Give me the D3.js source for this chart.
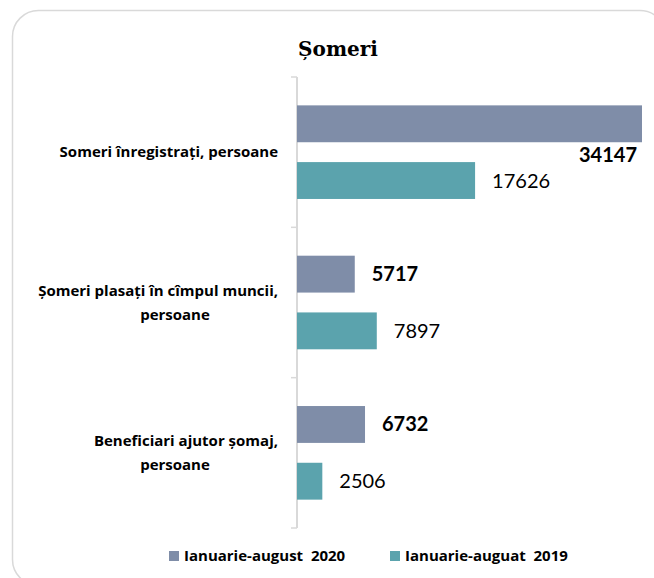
<!DOCTYPE html>
<html>
<head>
<meta charset="utf-8">
<script src="https://cdn.jsdelivr.net/npm/d3@7"></script>
<style>
  html, body { margin: 0; padding: 0; background: #fff; }
  svg { display: block; }
</style>
</head>
<body>
<svg id="chart" width="654" height="578"></svg>
<script>
// Unemployment indicators, January–August 2020 vs 2019
const title = "Șomeri";
const categories = [
  ["Someri înregistrați, persoane"],
  ["Șomeri plasați în cîmpul muncii,", "persoane"],
  ["Beneficiari ajutor șomaj,", "persoane"]
];
const seriesNames = ["Ianuarie-august  2020", "Ianuarie-auguat  2019"];
const values2020 = [34147, 5717, 6732];
const values2019 = [17626, 7897, 2506];

const colors = ["#7f8da8", "#5ba3ad"];
const labelFont = "'Open Sans', sans-serif";
const valueFont = "Lato, 'Open Sans', sans-serif";

const svg = d3.select("#chart");

// Rounded frame around the chart area
svg.append("rect")
  .attr("x", 12.5).attr("y", 10.5)
  .attr("width", 653.5).attr("height", 575)
  .attr("rx", 26).attr("ry", 26)
  .attr("fill", "#fff")
  .attr("stroke", "#d9d9d9")
  .attr("stroke-width", 1.5);

// Title
svg.append("text")
  .attr("x", 338).attr("y", 56)
  .attr("text-anchor", "middle")
  .attr("font-family", "'DejaVu Serif', serif")
  .attr("font-weight", "bold")
  .attr("font-size", 20)
  .attr("fill", "#000")
  .text(title);

const plot = { left: 297, right: 642, top: 77, bottom: 528 };

const x = d3.scaleLinear()
  .domain([0, d3.max(values2020.concat(values2019))])
  .range([plot.left, plot.right]);

const y = d3.scaleBand()
  .domain(d3.range(categories.length))
  .range([plot.top, plot.bottom]);

const inner = d3.scaleBand()
  .domain([0, 1])
  .range([0, y.bandwidth()])
  .paddingInner(0.35)
  .paddingOuter(0.5);

// Category axis with outward ticks at band boundaries
const axisG = svg.append("g");
axisG.append("line")
  .attr("x1", plot.left).attr("x2", plot.left)
  .attr("y1", plot.top).attr("y2", plot.bottom)
  .attr("stroke", "#d9d9d9").attr("stroke-width", 2);
const boundaries = d3.range(categories.length + 1).map(i =>
  i < categories.length ? y(i) : y(categories.length - 1) + y.bandwidth());
axisG.selectAll("line.tick").data(boundaries).join("line")
  .attr("class", "tick")
  .attr("x1", plot.left - 6).attr("x2", plot.left)
  .attr("y1", d => d).attr("y2", d => d)
  .attr("stroke", "#d9d9d9").attr("stroke-width", 1.5);

// Category labels
categories.forEach((lines, i) => {
  const cy = y(i) + y.bandwidth() / 2;
  const lh = 24;
  const y0 = cy - (lines.length - 1) * lh / 2;
  lines.forEach((ln, j) => {
    const isTail = lines.length > 1 && j === lines.length - 1;
    svg.append("text")
      .attr("x", isTail ? 175 : 278)
      .attr("y", y0 + j * lh)
      .attr("dy", "0.35em")
      .attr("text-anchor", isTail ? "middle" : "end")
      .attr("font-family", labelFont)
      .attr("font-weight", "bold")
      .attr("font-size", 15)
      .attr("fill", "#000")
      .text(ln);
  });
});

// Bars
const series = [values2020, values2019];
series.forEach((vals, s) => {
  svg.append("g").selectAll("rect").data(vals).join("rect")
    .attr("x", x(0))
    .attr("y", (d, i) => y(i) + inner(s))
    .attr("width", d => x(d) - x(0))
    .attr("height", inner.bandwidth())
    .attr("fill", colors[s]);
});

// Value labels
series.forEach((vals, s) => {
  svg.append("g").selectAll("text").data(vals).join("text")
    .each(function (d, i) {
      const t = d3.select(this);
      const cy = y(i) + inner(s) + inner.bandwidth() / 2;
      const fits = x(d) + 70 < plot.right;
      if (fits) {
        t.attr("x", x(d) + 17).attr("y", cy).attr("text-anchor", "start");
      } else {
        t.attr("x", plot.right - 5)
         .attr("y", y(i) + inner(s) + inner.bandwidth() + 13)
         .attr("text-anchor", "end");
      }
    })
    .attr("dy", "0.35em")
    .attr("font-family", valueFont)
    .attr("font-weight", s === 0 ? "bold" : "normal")
    .attr("font-size", 20)
    .attr("fill", "#000")
    .text(d => d);
});

// Legend
const legendX = [169, 390];
const legend = svg.append("g");
seriesNames.forEach((name, s) => {
  legend.append("rect")
    .attr("x", legendX[s]).attr("y", 551)
    .attr("width", 10).attr("height", 10)
    .attr("fill", colors[s]);
  legend.append("text")
    .attr("x", legendX[s] + 15).attr("y", 556)
    .attr("dy", "0.35em")
    .attr("font-family", labelFont)
    .attr("font-weight", "bold")
    .attr("font-size", 15)
    .attr("fill", "#000")
    .attr("xml:space", "preserve")
    .style("white-space", "pre")
    .text(name);
});
</script>
</body>
</html>
